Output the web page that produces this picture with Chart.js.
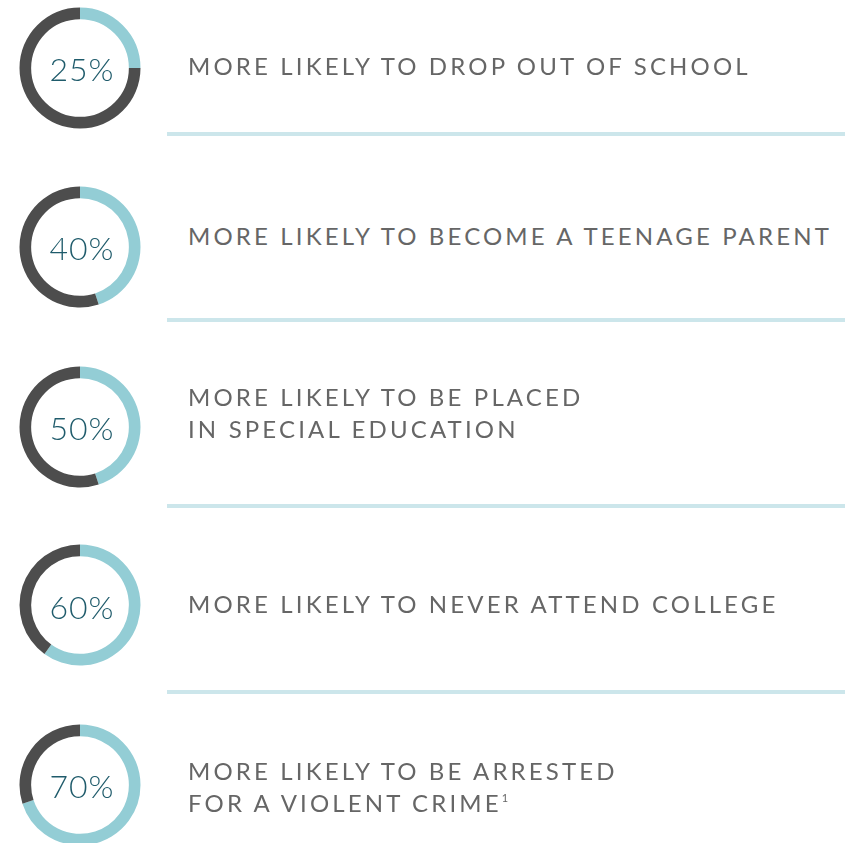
<!DOCTYPE html>
<html>
<head>
<meta charset="utf-8">
<script src="https://cdn.jsdelivr.net/npm/chart.js@4.4.0/dist/chart.umd.min.js"></script>
<style>
  body { margin: 0; background: #fff; }
  #page { position: relative; width: 853px; height: 843px; overflow: hidden; }
  .ring { position: absolute; width: 130px; height: 130px; }
  .pct { position: absolute; width: 130px; text-align: center; font-family: Lato, sans-serif; font-weight: 300;
         font-size: 32px; line-height: 40px; color: #1f5b6b; letter-spacing: 1px; }
  .label { position: absolute; left: 188px; font-family: Lato, sans-serif; font-size: 24px; line-height: 32px;
           color: #666; letter-spacing: 3.15px; white-space: nowrap; }
  .label sup { font-size: 11px; line-height: 0; vertical-align: 10px; letter-spacing: 0; }
  .rule { position: absolute; left: 167px; width: 678px; height: 4px; background: #cce6eb; }
</style>
</head>
<body>
<div id="page"></div>
<script>
// nilai yang terisi pada tiap lingkaran
const ringValues = [25, 45, 45, 60, 70];
// teks di tengah lingkaran
const centerLabels = ['25%', '40%', '50%', '60%', '70%'];
// teks keterangan di kanan
const statements = [
  ['MORE LIKELY TO DROP OUT OF SCHOOL'],
  ['MORE LIKELY TO BECOME A TEENAGE PARENT'],
  ['MORE LIKELY TO BE PLACED', 'IN SPECIAL EDUCATION'],
  ['MORE LIKELY TO NEVER ATTEND COLLEGE'],
  ['MORE LIKELY TO BE ARRESTED', 'FOR A VIOLENT CRIME<sup>1</sup>']
];

// tata letak
const ringCenterY = [67.5, 246.7, 426.5, 605.3, 784.5];
const labelTop = [49.7, 219.7, 380.7, 587.7, 754.7];
const ruleY = [132, 318, 504, 690];
const ringCenterX = 80;

const page = document.getElementById('page');

ringValues.forEach(function(v, i) {
  const box = document.createElement('div');
  box.className = 'ring';
  box.style.left = (ringCenterX - 65) + 'px';
  box.style.top = (ringCenterY[i] - 65) + 'px';
  const cv = document.createElement('canvas');
  box.appendChild(cv);
  page.appendChild(box);

  new Chart(cv.getContext('2d'), {
    type: 'doughnut',
    data: {
      labels: ['Filled', 'Rest'],
      datasets: [{
        data: [v, 100 - v],
        backgroundColor: ['#93cdd5', '#4d4d4d'],
        borderWidth: 0,
        hoverOffset: 0
      }]
    },
    options: {
      responsive: true,
      maintainAspectRatio: false,
      animation: false,
      radius: 60.5,
      cutout: 52.5,
      events: [],
      plugins: {
        legend: { display: false },
        tooltip: { enabled: false }
      }
    }
  });

  const pct = document.createElement('div');
  pct.className = 'pct';
  pct.textContent = centerLabels[i];
  pct.style.left = (ringCenterX + 2 - 65) + 'px';
  pct.style.top = (ringCenterY[i] - 18.4) + 'px';
  page.appendChild(pct);

  const lab = document.createElement('div');
  lab.className = 'label';
  lab.innerHTML = statements[i].join('<br>');
  lab.style.top = labelTop[i] + 'px';
  page.appendChild(lab);
});

ruleY.forEach(function(y) {
  const r = document.createElement('div');
  r.className = 'rule';
  r.style.top = y + 'px';
  page.appendChild(r);
});
</script>
</body>
</html>
